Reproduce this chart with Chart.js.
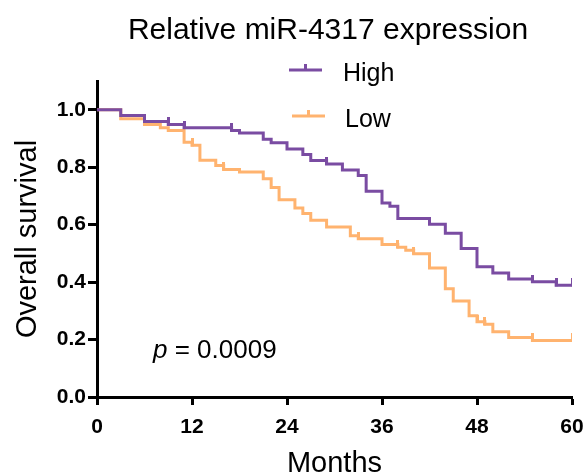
<!DOCTYPE html>
<html>
<head>
<meta charset="utf-8">
<script src="https://cdn.jsdelivr.net/npm/chart.js@4"></script>
<style>
  body { margin: 0; background: #fff; }
</style>
</head>
<body>
<canvas id="km" width="587" height="475"></canvas>
<script>
// Kaplan-Meier steps (month of each drop, survival after it)
const highMonths   = [0, 3, 6, 9, 11, 17, 18, 21, 22, 24, 26, 27, 29, 31, 33, 34, 36, 37, 38, 42, 44, 46, 48, 50, 52, 55, 58, 60];
const highSurvival = [1.0, 0.980, 0.959, 0.949, 0.937, 0.928, 0.919, 0.897, 0.885, 0.863, 0.844, 0.823, 0.811, 0.790, 0.771, 0.716, 0.675, 0.664, 0.621, 0.601, 0.570, 0.517, 0.453, 0.432, 0.411, 0.401, 0.389, 0.389];
const highCensored = [9, 11, 17, 29, 55, 58, 60];

const lowMonths   = [0, 3, 6, 8, 9, 11, 12, 13, 15, 16, 18, 21, 22, 23, 25, 26, 27, 29, 32, 33, 36, 38, 39, 40, 42, 44, 45, 47, 48, 49, 50, 52, 55, 60];
const lowSurvival = [1.0, 0.969, 0.949, 0.937, 0.928, 0.887, 0.876, 0.824, 0.806, 0.792, 0.783, 0.760, 0.729, 0.687, 0.658, 0.639, 0.615, 0.592, 0.561, 0.551, 0.531, 0.521, 0.511, 0.499, 0.449, 0.377, 0.334, 0.283, 0.262, 0.253, 0.227, 0.207, 0.197, 0.197];
const lowCensored = [12, 16, 33, 38, 40, 48, 49, 55, 60];

const xTicks = [0, 12, 24, 36, 48, 60];
const yTicks = [0, 0.2, 0.4, 0.6, 0.8, 1.0];

const purple = '#7a4ca2';
const orange = '#ffb36f';

const survivalAt = (months, surv, t) => {
    let s = surv[0];
    for (let i = 0; i < months.length; i++) {
        if (months[i] <= t) s = surv[i];
    }
    return s;
}

// small upward tick used for censored subjects
const censorMark = (color) => {
    const c = document.createElement('canvas');
    c.width = 3;
    c.height = 14;
    const g = c.getContext('2d');
    g.fillStyle = color;
    g.fillRect(0, 0, 3, 8);
    return c;
}

const steps = (months, surv) => months.map((m, i) => ({x: m, y: surv[i]}));
const censors = (months, surv, cens) => cens.map(t => ({x: t, y: survivalAt(months, surv, t)}));

const annotations = {
    id: 'annotations',
    afterDraw(chart) {
        const ctx = chart.ctx;
        ctx.save();
        ctx.fillStyle = '#000';
        ctx.textBaseline = 'alphabetic';
        ctx.textAlign = 'center';
        ctx.font = '30px "Liberation Sans", Arial, sans-serif';
        ctx.fillText('Relative miR-4317 expression', 328, 39);

        // legend
        const items = [
            {label: 'High', color: purple, x1: 289, x2: 322, y: 70, tx: 343, ty: 81},
            {label: 'Low', color: orange, x1: 292, x2: 325, y: 116, tx: 345, ty: 127}
        ];
        items.forEach(it => {
            ctx.strokeStyle = it.color;
            ctx.lineWidth = 3;
            ctx.beginPath();
            ctx.moveTo(it.x1, it.y);
            ctx.lineTo(it.x2, it.y);
            const mid = (it.x1 + it.x2) / 2;
            ctx.moveTo(mid, it.y);
            ctx.lineTo(mid, it.y - 6);
            ctx.stroke();
            ctx.textAlign = 'left';
            ctx.font = '25px "Liberation Sans", Arial, sans-serif';
            ctx.fillText(it.label, it.tx, it.ty);
        });

        // p value
        ctx.font = 'italic 26px "Liberation Sans", Arial, sans-serif';
        ctx.fillText('p', 153, 358);
        const pw = ctx.measureText('p').width;
        ctx.font = '26px "Liberation Sans", Arial, sans-serif';
        ctx.fillText(' = 0.0009', 153 + pw, 358);
        ctx.restore();
    }
};

const config = {
    type: 'line',
    data: {
        datasets: [
            {
                label: 'High',
                data: steps(highMonths, highSurvival),
                stepped: true,
                borderColor: purple,
                borderWidth: 3,
                pointRadius: 0,
                fill: false
            },
            {
                label: 'Low',
                data: steps(lowMonths, lowSurvival),
                stepped: true,
                borderColor: orange,
                borderWidth: 3,
                pointRadius: 0,
                fill: false
            },
            {
                label: 'High censored',
                data: censors(highMonths, highSurvival, highCensored),
                showLine: false,
                pointStyle: censorMark(purple),
                pointRadius: 5
            },
            {
                label: 'Low censored',
                data: censors(lowMonths, lowSurvival, lowCensored),
                showLine: false,
                pointStyle: censorMark(orange),
                pointRadius: 5
            }
        ]
    },
    options: {
        responsive: false,
        animation: false,
        layout: {
            padding: {top: 81, right: 15, left: 0, bottom: 0}
        },
        plugins: {
            legend: {display: false},
            title: {display: false},
            tooltip: {enabled: false}
        },
        scales: {
            x: {
                type: 'linear',
                min: 0,
                max: 60,
                afterFit: (scale) => {
                    scale.height = 78;
                    scale.paddingLeft = 0;
                    scale.paddingRight = 0;
                },
                afterBuildTicks: (scale) => { scale.ticks = xTicks.map(v => ({value: v})); },
                grid: {drawOnChartArea: false, drawTicks: true, tickLength: 8, tickWidth: 3, tickColor: '#000'},
                border: {display: true, color: '#000', width: 3},
                ticks: {
                    color: '#000',
                    padding: 10,
                    maxRotation: 0,
                    font: {family: '"Liberation Sans", Arial, sans-serif', size: 21, weight: 'bold'}
                },
                title: {
                    display: true,
                    text: 'Months',
                    color: '#000',
                    padding: {top: 0, bottom: -3},
                    font: {family: '"Liberation Sans", Arial, sans-serif', size: 29, lineHeight: 1}
                }
            },
            y: {
                type: 'linear',
                min: 0,
                max: 1.1,
                afterFit: (scale) => {
                    scale.width = 97;
                    scale.paddingTop = 0;
                    scale.paddingBottom = 0;
                },
                afterBuildTicks: (scale) => { scale.ticks = yTicks.map(v => ({value: v})); },
                grid: {drawOnChartArea: false, drawTicks: true, tickLength: 9, tickWidth: 3, tickColor: '#000'},
                border: {display: true, color: '#000', width: 3},
                ticks: {
                    color: '#000',
                    padding: 2,
                    callback: (v) => v.toFixed(1),
                    font: {family: '"Liberation Sans", Arial, sans-serif', size: 21, weight: 'bold'}
                },
                title: {
                    display: true,
                    text: 'Overall survival',
                    color: '#000',
                    padding: {top: 13, bottom: 0},
                    font: {family: '"Liberation Sans", Arial, sans-serif', size: 29, lineHeight: 1}
                }
            }
        }
    },
    plugins: [annotations]
};

const graph = new Chart(document.getElementById('km'), config);
</script>
</body>
</html>
